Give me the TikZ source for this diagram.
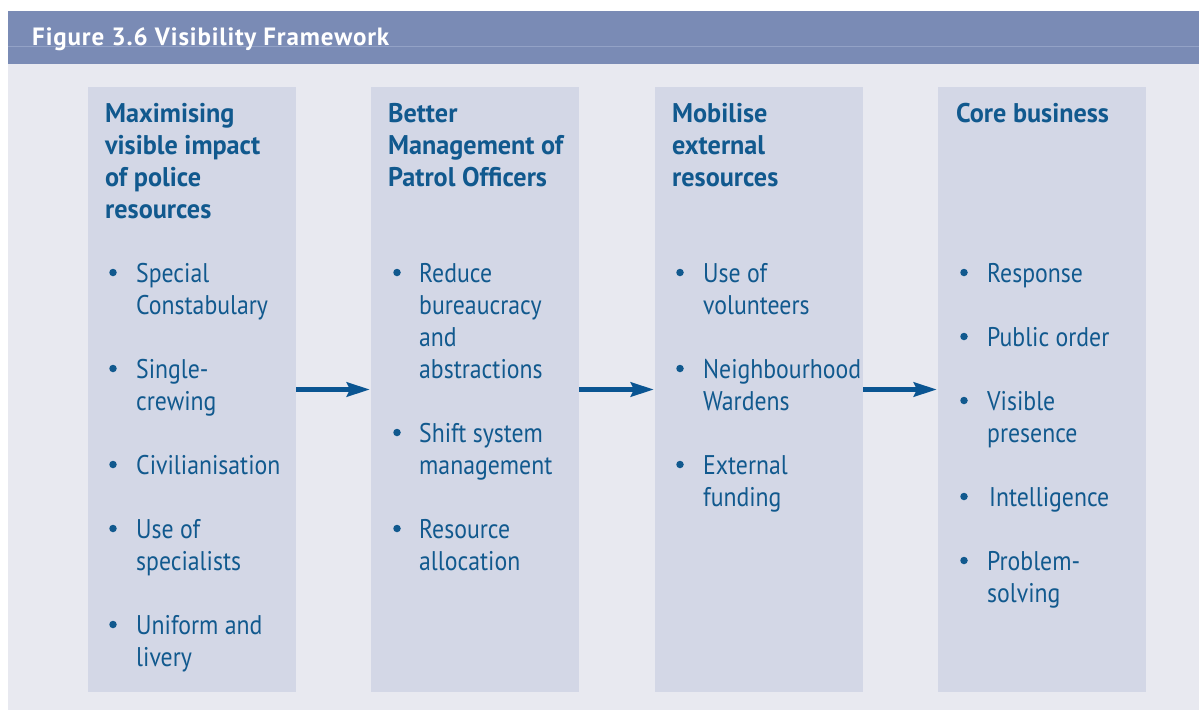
\documentclass[tikz,border=0pt]{standalone}
\usepackage{fontspec}
\setmainfont{PT Sans}[FakeStretch=0.88]
\newfontfamily\headfont{PT Sans Bold}[FakeStretch=0.97]
\newfontfamily\titlefont{PT Sans Bold}[LetterSpace=3.5]
\usetikzlibrary{arrows.meta}
\definecolor{hdrc}{HTML}{7A8BB5}
\definecolor{hdrline}{HTML}{93A2C6}
\definecolor{bgc}{HTML}{E8E9F0}
\definecolor{boxc}{HTML}{D3D7E6}
\definecolor{txtc}{HTML}{11598E}
\definecolor{arrc}{HTML}{0A5592}
\newcommand\lines[1]{\vtop{\baselineskip=32pt\lineskiplimit=-100pt #1}}
\begin{document}
\begin{tikzpicture}[x=1pt,y=-1pt,
  panel/.style={fill=boxc, draw=none, minimum width=208pt, minimum height=605pt, inner sep=0pt, outer sep=0pt, anchor=north west},
  txt/.style={anchor=base west, inner sep=0pt, text=txtc, font=\fontsize{27}{32}\selectfont},
  headtxt/.style={txt, font=\fontsize{27}{32}\selectfont\headfont},
  dot/.style={circle, fill=txtc, draw=none, inner sep=0pt, minimum size=7.5pt},
  flow/.style={draw=arrc, line width=5.5pt, shorten >=1pt, -{Stealth[length=23pt,width=14pt,inset=3pt]}}]
\useasboundingbox (0,0) rectangle (1199,710);
\fill[bgc] (8,11) rectangle (1199,710);
\fill[hdrc] (8,11) rectangle (1199,64);
\draw[hdrline, line width=1pt] (8,46.5) -- (1199,46.5);
\node[anchor=base west, inner sep=0pt, text=white, font=\fontsize{25}{28}\selectfont\titlefont] (title) at (32,45) {Figure 3.6 Visibility Framework};

% panels
\node[panel] (b1) at (88,87) {};
\node[panel] (b2) at (371,87) {};
\node[panel] (b3) at (655,87) {};
\node[panel] (b4) at (938,87) {};

% arrows
\draw[flow] (b1) -- (b2);
\draw[flow] (b2) -- (b3);
\draw[flow] (b3) -- (b4);

% panel 1
\node[headtxt] (h1) at (105,122) {\lines{\hbox{Maximising}\hbox{visible impact}\hbox{of police}\hbox{resources}}};
\node[dot] (d11) at (113,272.5) {};
\node[txt] (t11) at (136,282) {\lines{\hbox{Special}\hbox{Constabulary}}};
\node[dot] (d12) at (113,368.5) {};
\node[txt] (t12) at (136,378) {\lines{\hbox{Single-}\hbox{crewing}}};
\node[dot] (d13) at (113,464.5) {};
\node[txt] (t13) at (136,474) {Civilianisation};
\node[dot] (d14) at (113,528.5) {};
\node[txt] (t14) at (136,538) {\lines{\hbox{Use of}\hbox{specialists}}};
\node[dot] (d15) at (113,624.5) {};
\node[txt] (t15) at (136,634) {\lines{\hbox{Uniform and}\hbox{livery}}};

% panel 2
\node[headtxt] (h2) at (388,122) {\lines{\hbox{Better}\hbox{Management of}\hbox{Patrol Officers}}};
\node[dot] (d21) at (397,272.5) {};
\node[txt] (t21) at (419,282) {\lines{\hbox{Reduce}\hbox{bureaucracy}\hbox{and}\hbox{abstractions}}};
\node[dot] (d22) at (397,432.5) {};
\node[txt] (t22) at (419,442) {\lines{\hbox{Shift system}\hbox{management}}};
\node[dot] (d23) at (397,528.5) {};
\node[txt] (t23) at (419,538) {\lines{\hbox{Resource}\hbox{allocation}}};

% panel 3
\node[headtxt] (h3) at (672,122) {\lines{\hbox{Mobilise}\hbox{external}\hbox{resources}}};
\node[dot] (d31) at (680,272.5) {};
\node[txt] (t31) at (703,282) {\lines{\hbox{Use of}\hbox{volunteers}}};
\node[dot] (d32) at (680,368.5) {};
\node[txt] (t32) at (703,378) {\lines{\hbox{Neighbourhood}\hbox{Wardens}}};
\node[dot] (d33) at (680,464.5) {};
\node[txt] (t33) at (703,474) {\lines{\hbox{External}\hbox{funding}}};

% panel 4
\node[headtxt] (h4) at (956,122) {Core business};
\node[dot] (d41) at (964,272.5) {};
\node[txt] (t41) at (987,282) {Response};
\node[dot] (d42) at (964,336.5) {};
\node[txt] (t42) at (987,346) {Public order};
\node[dot] (d43) at (964,400.5) {};
\node[txt] (t43) at (987,410) {\lines{\hbox{Visible}\hbox{presence}}};
\node[dot] (d44) at (964,496.5) {};
\node[txt] (t44) at (989,506) {Intelligence};
\node[dot] (d45) at (964,560.5) {};
\node[txt] (t45) at (987,570) {\lines{\hbox{Problem-}\hbox{solving}}};
\end{tikzpicture}
\end{document}
